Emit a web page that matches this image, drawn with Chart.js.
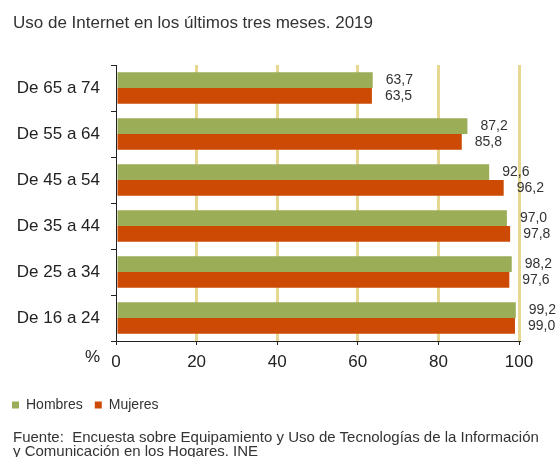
<!DOCTYPE html>
<html>
<head>
<meta charset="utf-8">
<script src="https://cdn.jsdelivr.net/npm/chart.js@4/dist/chart.umd.min.js"></script>
<style>
    body { margin: 0; background: #fff; font-family: "Liberation Sans", Arial, sans-serif; color: #333; }
    #wrap { position: relative; width: 560px; height: 457px; overflow: hidden; }
    #title { position: absolute; left: 13px; top: 13px; font-size: 17px; white-space: nowrap; }
    #source { position: absolute; left: 13px; top: 430px; font-size: 15px; line-height: 14px; white-space: pre; }
    canvas { position: absolute; left: 0; top: 0; }
</style>
</head>
<body>
<div id="wrap">
    <canvas id="usoChart" width="560" height="457"></canvas>
    <div id="title">Uso de Internet en los últimos tres meses. 2019</div>
    <div id="source">Fuente:  Encuesta sobre Equipamiento y Uso de Tecnologías de la Información
y Comunicación en los Hogares. INE</div>
</div>
<script>
// Age groups, top to bottom
const ageGroups = ['De 65 a 74', 'De 55 a 64', 'De 45 a 54', 'De 35 a 44', 'De 25 a 34', 'De 16 a 24'];
const hombres = [63.7, 87.2, 92.6, 97.0, 98.2, 99.2];
const mujeres = [63.5, 85.8, 96.2, 97.8, 97.6, 99.0];
const xTicks = [0, 20, 40, 60, 80, 100];

const FONT = '"Liberation Sans", Arial, sans-serif';
const GRID_TAN = '#e6d891';

// Value labels at the end of each bar, with decimal comma
const barLabels = {
    id: 'barLabels',
    afterDatasetsDraw(chart) {
        const ctx = chart.ctx;
        ctx.save();
        ctx.font = '14px ' + FONT;
        ctx.fillStyle = '#333';
        ctx.textAlign = 'left';
        ctx.textBaseline = 'middle';
        chart.data.datasets.forEach((ds, i) => {
            chart.getDatasetMeta(i).data.forEach((bar, j) => {
                ctx.fillText(ds.data[j].toFixed(1).replace('.', ','), bar.x + 13, bar.y);
            });
        });
        ctx.restore();
    }
};

// "%" unit next to the 0 tick
const unitLabel = {
    id: 'unitLabel',
    afterDraw(chart) {
        const ctx = chart.ctx;
        const x = chart.scales.x;
        ctx.save();
        ctx.font = '17px ' + FONT;
        ctx.fillStyle = '#222';
        ctx.textAlign = 'right';
        ctx.textBaseline = 'middle';
        ctx.fillText('%', x.left - 16, x.top + 16);
        ctx.restore();
    }
};

const ctx = document.getElementById('usoChart').getContext('2d');
const usoChart = new Chart(ctx, {
    type: 'bar',
    data: {
        labels: ageGroups,
        datasets: [
            {
                label: 'Hombres',
                data: hombres,
                backgroundColor: '#9bad57',
                barPercentage: 1,
                categoryPercentage: 0.68
            },
            {
                label: 'Mujeres',
                data: mujeres,
                backgroundColor: '#cc4a04',
                barPercentage: 1,
                categoryPercentage: 0.68
            }
        ]
    },
    options: {
        indexAxis: 'y',
        responsive: false,
        animation: false,
        layout: {
            padding: { left: 0, right: 41, top: 65, bottom: 35 }
        },
        scales: {
            x: {
                min: 0,
                max: 100,
                afterBuildTicks: scale => {
                    scale.ticks = xTicks.map(v => ({ value: v }));
                },
                afterFit: scale => { scale.height = 45; },
                border: { color: '#222', width: 1 },
                grid: {
                    color: c => (c.tick && c.tick.value === 0 ? 'rgba(0,0,0,0)' : GRID_TAN),
                    lineWidth: 3,
                    tickColor: '#222',
                    tickWidth: 1,
                    tickLength: 4
                },
                ticks: {
                    color: '#222',
                    padding: 7,
                    font: { family: FONT, size: 17 }
                }
            },
            y: {
                afterFit: scale => { scale.width = 116; },
                border: { color: '#222', width: 1 },
                grid: {
                    drawOnChartArea: false,
                    tickColor: '#222',
                    tickLength: 5
                },
                ticks: {
                    color: '#222',
                    padding: 11,
                    font: { family: FONT, size: 17 }
                }
            }
        },
        plugins: {
            legend: {
                position: 'bottom',
                align: 'start',
                labels: {
                    boxWidth: 7,
                    boxHeight: 7,
                    padding: 12,
                    color: '#333',
                    font: { family: FONT, size: 14 }
                }
            },
            tooltip: { enabled: false }
        }
    },
    plugins: [barLabels, unitLabel]
});
</script>
</body>
</html>
